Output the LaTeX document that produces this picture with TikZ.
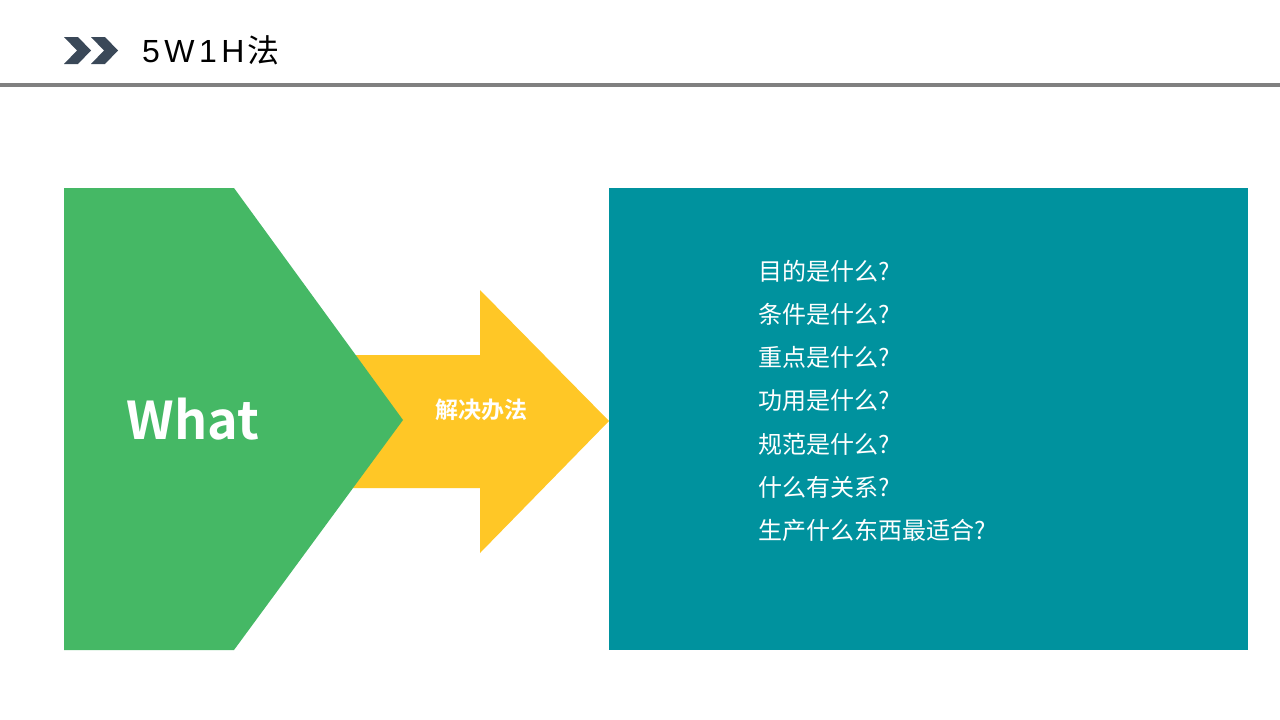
\documentclass[tikz,border=0pt]{standalone}
\usepackage{fontspec}
\setmainfont{Liberation Sans}
\newfontfamily\cjk{Noto Sans CJK SC}
\newfontfamily\cjkbold{Noto Sans CJK SC Bold}
\definecolor{slate}{HTML}{3A4858}
\definecolor{rulegray}{HTML}{808080}
\definecolor{leafgreen}{HTML}{45B865}
\definecolor{sunyellow}{HTML}{FFC726}
\definecolor{tealbox}{HTML}{00929E}
\tikzset{
  qline/.style={anchor=west, text=white, font=\cjk\fontsize{24}{24}\selectfont, inner sep=0pt},
}
\begin{document}
\begin{tikzpicture}[x=1pt,y=-1pt]
\useasboundingbox (0,0) rectangle (1280,720);
\fill[white] (0,0) rectangle (1280,720);
% header icon
\fill[slate] (64,37) -- (78,37) -- (91,50.5) -- (78,64) -- (64,64) -- (77,50.5) -- cycle;
\fill[slate] (91,37) -- (105,37) -- (118,50.5) -- (105,64) -- (91,64) -- (104,50.5) -- cycle;
\node[anchor=west, inner sep=0pt, font=\fontsize{32}{32}\selectfont] (title) at (142,50.5)
  {5\kern4.5pt W\kern4.5pt 1\kern4.5pt H\kern3pt{\cjk 法}};
\fill[rulegray] (0,83) rectangle (1280,87);
% yellow arrow
\fill[sunyellow] (340,355) -- (480,355) -- (480,290) -- (609,421) -- (480,553) -- (480,488) -- (340,488) -- cycle;
% green pentagon
\fill[leafgreen] (64,188) -- (234,188) -- (403,420) -- (234,650) -- (64,650) -- cycle;
% teal box
\fill[tealbox] (609,188) rectangle (1248,650);
\node[text=white, font=\cjkbold\fontsize{52}{52}\selectfont, inner sep=0pt] (what) at (193,419) {What};
\node[text=white, font=\cjkbold\fontsize{23}{23}\selectfont, inner sep=0pt] (sol) at (481,410) {解决办法};
\node[qline] (q1) at (758,271) {目的是什么?};
\node[qline] (q2) at (758,314) {条件是什么?};
\node[qline] (q3) at (758,357) {重点是什么?};
\node[qline] (q4) at (758,400.5) {功用是什么?};
\node[qline] (q5) at (758,444) {规范是什么?};
\node[qline] (q6) at (758,487) {什么有关系?};
\node[qline] (q7) at (758,530) {生产什么东西最适合?};
\end{tikzpicture}
\end{document}
